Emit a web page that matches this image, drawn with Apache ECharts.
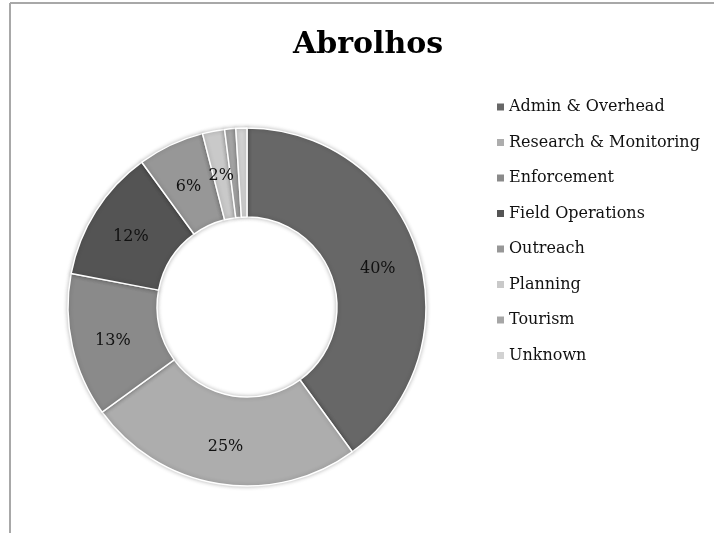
<!DOCTYPE html>
<html>
<head>
<meta charset="utf-8">
<script src="https://cdn.jsdelivr.net/npm/echarts@6/dist/echarts.min.js"></script>
<style>
  html, body { margin: 0; padding: 0; background: #fff; }
  #chart { width: 714px; height: 533px; }
</style>
</head>
<body>
<div id="chart"></div>
<script>
// Budget share by program area (percent)
const categories = [
  'Admin & Overhead', 'Research & Monitoring', 'Enforcement', 'Field Operations',
  'Outreach', 'Planning', 'Tourism', 'Unknown'
];
const shares = [40, 25, 13, 12, 6, 2, 1, 1];
const sliceColors = ['#676767', '#adadad', '#8a8a8a', '#545454', '#979797', '#c9c9c9', '#a6a6a6', '#d2d2d2'];
const titleText = 'Abrolhos';

const serif = 'DejaVu Serif, Liberation Serif, serif';

const chart = echarts.init(document.getElementById('chart'));
chart.setOption({
  backgroundColor: '#ffffff',
  animation: false,
  color: sliceColors,
  title: {
    text: titleText,
    left: 288,
    top: 25,
    textStyle: { fontFamily: serif, fontWeight: 'bold', fontSize: 30, color: '#000' }
  },
  legend: {
    orient: 'vertical',
    left: 490,
    top: 92,
    icon: 'rect',
    itemWidth: 9,
    itemHeight: 9,
    itemGap: 15.5,
    data: categories,
    textStyle: { fontFamily: serif, fontSize: 16, color: '#111', lineHeight: 20, padding: [0, 0, 0, -1] }
  },
  graphic: [
    { type: 'line', shape: { x1: 10, y1: 3, x2: 714, y2: 3 }, style: { stroke: '#a8a8a8', lineWidth: 2 } },
    { type: 'line', shape: { x1: 10, y1: 3, x2: 10, y2: 533 }, style: { stroke: '#a8a8a8', lineWidth: 2 } }
  ],
  series: [{
    type: 'pie',
    center: [247, 307],
    radius: [90, 179],
    startAngle: 90,
    clockwise: true,
    avoidLabelOverlap: false,
    itemStyle: {
      borderColor: '#ffffff',
      borderWidth: 1.5,
      shadowBlur: 4,
      shadowColor: 'rgba(0,0,0,0.25)'
    },
    label: {
      show: true,
      position: 'inside',
      offset: [0, 4],
      formatter: p => p.value >= 2 ? p.value + '%' : '',
      fontFamily: serif,
      fontSize: 16,
      color: '#111'
    },
    labelLine: { show: false },
    emphasis: { disabled: true },
    data: categories.map((name, i) => ({ name, value: shares[i] }))
  }]
});
</script>
</body>
</html>
